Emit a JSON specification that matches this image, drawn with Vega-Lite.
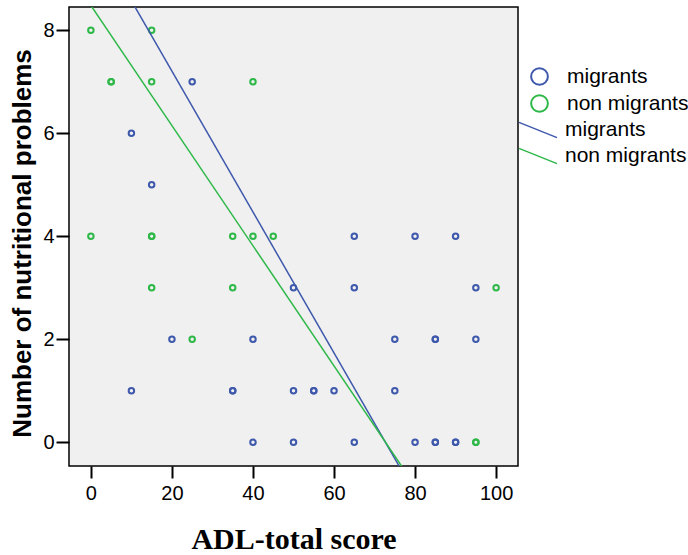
{
  "$schema": "https://vega.github.io/schema/vega-lite/v6.json",
  "autosize": {"type": "none"},
  "padding": {"left": 69, "top": 7, "right": 170, "bottom": 89},
  "width": 449,
  "height": 459,
  "background": "white",
  "config": {
    "view": {"stroke": "black", "strokeWidth": 1.5, "fill": "#f0f0f0"},
    "axis": {"domain": false, "grid": false, "tickColor": "black", "tickWidth": 2, "labelColor": "black", "labelFont": "Liberation Sans", "labelFontSize": 20, "titleColor": "black"},
    "legend": {"labelFont": "Liberation Sans", "labelFontSize": 21, "labelColor": "black", "padding": 0}
  },
  "datasets": {
    "points": [
      {"adl": 25, "problems": 7, "group": "migrants"},
      {"adl": 10, "problems": 6, "group": "migrants"},
      {"adl": 15, "problems": 5, "group": "migrants"},
      {"adl": 65, "problems": 4, "group": "migrants"},
      {"adl": 80, "problems": 4, "group": "migrants"},
      {"adl": 90, "problems": 4, "group": "migrants"},
      {"adl": 50, "problems": 3, "group": "migrants"},
      {"adl": 65, "problems": 3, "group": "migrants"},
      {"adl": 95, "problems": 3, "group": "migrants"},
      {"adl": 20, "problems": 2, "group": "migrants"},
      {"adl": 40, "problems": 2, "group": "migrants"},
      {"adl": 75, "problems": 2, "group": "migrants"},
      {"adl": 85, "problems": 2, "group": "migrants"},
      {"adl": 85, "problems": 2, "group": "migrants"},
      {"adl": 95, "problems": 2, "group": "migrants"},
      {"adl": 10, "problems": 1, "group": "migrants"},
      {"adl": 35, "problems": 1, "group": "migrants"},
      {"adl": 35, "problems": 1, "group": "migrants"},
      {"adl": 50, "problems": 1, "group": "migrants"},
      {"adl": 55, "problems": 1, "group": "migrants"},
      {"adl": 55, "problems": 1, "group": "migrants"},
      {"adl": 60, "problems": 1, "group": "migrants"},
      {"adl": 75, "problems": 1, "group": "migrants"},
      {"adl": 40, "problems": 0, "group": "migrants"},
      {"adl": 50, "problems": 0, "group": "migrants"},
      {"adl": 65, "problems": 0, "group": "migrants"},
      {"adl": 80, "problems": 0, "group": "migrants"},
      {"adl": 85, "problems": 0, "group": "migrants"},
      {"adl": 85, "problems": 0, "group": "migrants"},
      {"adl": 90, "problems": 0, "group": "migrants"},
      {"adl": 90, "problems": 0, "group": "migrants"},
      {"adl": 0, "problems": 8, "group": "non migrants"},
      {"adl": 15, "problems": 8, "group": "non migrants"},
      {"adl": 5, "problems": 7, "group": "non migrants"},
      {"adl": 5, "problems": 7, "group": "non migrants"},
      {"adl": 15, "problems": 7, "group": "non migrants"},
      {"adl": 40, "problems": 7, "group": "non migrants"},
      {"adl": 0, "problems": 4, "group": "non migrants"},
      {"adl": 15, "problems": 4, "group": "non migrants"},
      {"adl": 15, "problems": 4, "group": "non migrants"},
      {"adl": 35, "problems": 4, "group": "non migrants"},
      {"adl": 40, "problems": 4, "group": "non migrants"},
      {"adl": 45, "problems": 4, "group": "non migrants"},
      {"adl": 15, "problems": 3, "group": "non migrants"},
      {"adl": 35, "problems": 3, "group": "non migrants"},
      {"adl": 100, "problems": 3, "group": "non migrants"},
      {"adl": 25, "problems": 2, "group": "non migrants"},
      {"adl": 95, "problems": 0, "group": "non migrants"},
      {"adl": 95, "problems": 0, "group": "non migrants"}
    ],
    "fits": [
      {"adl": -6, "problems": 10.76, "series": "migrants"},
      {"adl": 80, "problems": -1.0, "series": "migrants"},
      {"adl": -6, "problems": 9.18, "series": "non migrants"},
      {"adl": 80, "problems": -0.85, "series": "non migrants"}
    ]
  },
  "encoding": {
    "x": {"field": "adl", "type": "quantitative",
      "scale": {"domain": [-5.4, 105.4], "nice": false, "zero": false},
      "axis": {"values": [0, 20, 40, 60, 80, 100], "tickSize": 12, "labelPadding": 5,
        "title": "ADL-total score", "titleFont": "Liberation Serif", "titleFontSize": 30, "titleFontWeight": "bold",
        "titleY": 82, "titleBaseline": "alphabetic"}},
    "y": {"field": "problems", "type": "quantitative",
      "scale": {"domain": [-0.46, 8.45], "nice": false, "zero": false},
      "axis": {"values": [0, 2, 4, 6, 8], "tickSize": 13, "labelPadding": 2,
        "title": "Number of nutritional problems", "titleFont": "Liberation Sans", "titleFontSize": 26, "titleFontWeight": "bold",
        "titleX": -47, "titleY": 236, "titleAngle": -90, "titleAlign": "center", "titleBaseline": "middle"}}
  },
  "resolve": {"scale": {"color": "independent", "stroke": "independent"}, "legend": {"color": "independent", "stroke": "independent"}},
  "layer": [
    {
      "data": {"name": "points"},
      "mark": {"type": "point", "shape": "circle", "filled": false, "strokeWidth": 2, "size": 30, "opacity": 1},
      "encoding": {
        "color": {"field": "group", "type": "nominal",
          "scale": {"domain": ["migrants", "non migrants"], "range": ["#3e58ac", "#2eb848"]},
          "legend": {"title": null, "orient": "none", "legendX": 460, "legendY": 59, "symbolSize": 280, "symbolStrokeWidth": 2, "labelOffset": 17, "rowPadding": 2}}
      }
    },
    {
      "data": {"name": "fits"},
      "mark": {"type": "line", "strokeWidth": 1.5, "clip": true},
      "encoding": {
        "stroke": {"field": "series", "type": "nominal",
          "scale": {"domain": ["migrants", "non migrants"], "range": ["#3e58ac", "#2eb848"]},
          "legend": {"title": null, "orient": "none", "legendX": 458, "legendY": 112, "symbolType": "M-1.9,-0.76L1.9,0.76", "symbolSize": 400, "symbolStrokeWidth": 1.5, "labelOffset": 16, "rowPadding": 4}}
      }
    }
  ]
}
